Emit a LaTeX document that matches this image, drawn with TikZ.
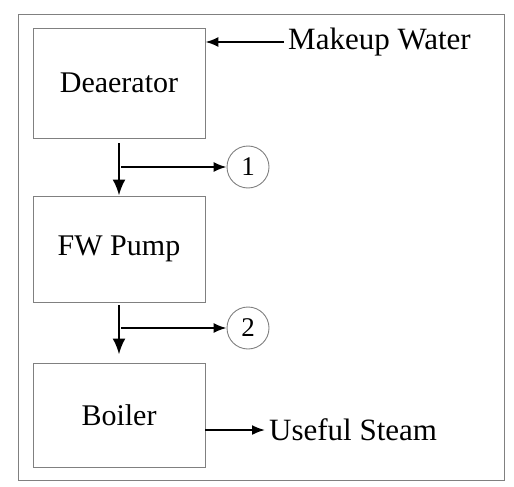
\documentclass[tikz,border=0pt]{standalone}
\usepackage{fontspec}
\setmainfont{Liberation Serif}
\usetikzlibrary{arrows.meta}
\tikzset{
  unit/.style={draw=gray, line width=0.9pt, minimum width=172pt, font=\fontsize{30}{36}\selectfont},
  state/.style={circle, draw=gray, line width=0.9pt, minimum size=42pt, inner sep=0pt, font=\fontsize{27}{32}\selectfont},
  label/.style={font=\fontsize{31}{36}\selectfont, inner sep=4pt},
  main/.style={line width=2.6pt, -{Latex[length=16pt, width=13pt]}},
  side/.style={line width=1.8pt, -{Latex[length=13pt, width=10pt]}}
}
\begin{document}
\begin{tikzpicture}[x=1pt, y=-1pt]
\useasboundingbox (0,0) rectangle (514,487);
\draw[gray, line width=0.9pt](18,14) rectangle (504,480);
\node[unit, minimum height=110pt] (deaer) at (119,83) {Deaerator};
\node[unit, minimum height=106pt] (pump) at (119,249) {FW Pump};
\node[unit, minimum height=104pt] (boiler) at (119,415) {Boiler};
\node[label, anchor=west] (makeup) at (284,42) {Makeup Water};
\node[label, anchor=west] (steam) at (265,430) {Useful Steam};
\node[state] (s1) at (248,167) {1};
\node[state] (s2) at (248,328) {2};
\coordinate (b1) at (121,167);
\coordinate (b2) at (121,328);
\draw[side](makeup.west)--(makeup.west -| deaer.east);
\draw[main]([yshift=-5pt]deaer.south)--(pump.north);
\draw[side](b1)--(s1);
\draw[main]([yshift=-3pt]pump.south)--([yshift=8pt]boiler.north);
\draw[side](b2)--(s2);
\draw[side](boiler.east |- steam)--(steam.west);

\end{tikzpicture}
\end{document}
